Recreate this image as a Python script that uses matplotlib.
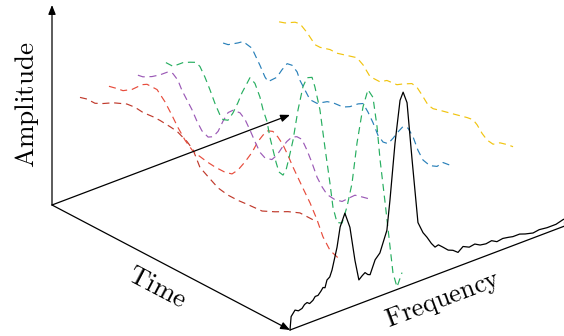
import numpy as np
import matplotlib
matplotlib.use("Agg")
import matplotlib.pyplot as plt

plt.rcParams['mathtext.fontset'] = 'cm'

# time signals: (time position 0..1, amplitude) for each frequency slot
slots = [1, 2, 3, 4, 6, 8]
colors = ['#c0392b', '#e74c3c', '#9b59b6', '#27ae60', '#2980b9', '#f1c40f']

t_red1 = [0, .029, .063, .097, .139, .197, .231, .265, .307, .336, .378, .408, .433, .45, .475,
          .504, .538, .58, .622, .664, .706, .765, .819, .874, .924, .979]
a_red1 = [97, 99, 99, 103, 109, 115, 116, 115, 116, 116, 115, 114, 111, 109, 104,
          90, 85, 79, 77, 77, 78, 79, 85, 92, 97, 97]

t_red2 = [.004, .038, .063, .101, .143, .164, .206, .239, .269, .294, .324, .353, .378, .416, .45,
          .492, .521, .546, .576, .605, .63, .651, .672, .693, .714, .735, .756, .777, .798, .819,
          .849, .878, .903, .933, .975]
a_red2 = [98, 100, 101, 107, 117, 120, 120, 112, 102, 93, 84, 78, 76, 74, 73,
          73, 75, 82, 94, 107, 121, 130, 137, 139, 136, 131, 123, 114, 106, 98,
          87, 74, 60, 50, 46]

t_purple = [.008, .029, .067, .101, .134, .155, .176, .193, .214, .235, .256, .277, .303, .324,
            .345, .366, .387, .408, .437, .458, .479, .5, .521, .542, .571, .592, .613, .634,
            .655, .676, .697, .718, .739, .761, .782, .803, .836, .866, .899, .92, .95, .983]
a_purple = [99, 100, 105, 111, 118, 119, 115, 107, 100, 93, 84, 77, 74, 77,
            85, 98, 109, 114, 115, 111, 103, 94, 86, 83, 85, 92, 102, 111,
            118, 121, 121, 113, 103, 91, 84, 79, 78, 80, 88, 93, 95, 97]

t_green = [.008, .038, .08, .109, .134, .151, .172, .193, .214, .235, .248, .269, .29, .311,
           .328, .349, .361, .382, .403, .416, .433, .445, .458, .471, .483, .5, .513, .525,
           .542, .563, .584, .601, .622, .634, .655, .676, .697, .71, .727, .748, .769, .79,
           .811, .836, .857, .878, .895, .908, .929, .95, .962, .979, 1.0]
a_green = [101, 101, 110, 114, 117, 115, 107, 97, 86, 77, 74, 76, 86, 99,
           111, 123, 130, 127, 116, 105, 95, 81, 70, 59, 51, 50, 57, 70,
           90, 123, 149, 160, 163, 155, 135, 100, 67, 44, 31, 33, 52, 78,
           121, 160, 180, 175, 148, 116, 76, 34, 10, -2, 15]

t_blue = [.013, .034, .076, .097, .134, .147, .168, .189, .202, .239, .26, .282, .303, .324,
          .336, .357, .378, .408, .45, .475, .517, .546, .58, .601, .622, .643, .664, .685,
          .706, .727, .748, .769, .79, .811, .832, .853, .882, .912, .937, .966]
a_blue = [100, 101, 108, 112, 110, 105, 97, 88, 85, 94, 104, 113, 114, 110,
          103, 96, 89, 89, 96, 98, 99, 103, 110, 113, 107, 99, 89, 85,
          86, 94, 103, 111, 112, 106, 95, 88, 86, 89, 96, 97]

t_yellow = [.013, .038, .08, .101, .13, .164, .185, .227, .256, .298, .34, .366, .395, .437,
            .466, .508, .534, .571, .592, .613, .639, .66, .689, .739, .803, .828, .845, .866,
            .887, .912, .941, .971, .996]
a_yellow = [100, 102, 108, 109, 104, 96, 96, 99, 99, 102, 105, 101, 93, 93,
            98, 99, 103, 108, 107, 102, 95, 94, 96, 99, 103, 104, 101, 95,
            91, 90, 95, 97, 98]

signals_t = [t_red1, t_red2, t_purple, t_green, t_blue, t_yellow]
signals_a = [a_red1, a_red2, a_purple, a_green, a_blue, a_yellow]

# spectrum at the end of the time axis
spec_f = [0, .04, .18, .3, .43, .52, .61, .7, .82, .9, 1.0, 1.1, 1.18, 1.25, 1.32, 1.42, 1.5,
          1.68, 1.79, 1.96, 2.14, 2.32, 2.46, 2.58, 2.68, 2.78, 2.86, 3.04, 3.21, 3.46, 3.57,
          3.75, 3.93, 4.04, 4.18, 4.36, 4.57, 4.75, 4.89, 5.05, 5.18, 5.3, 5.46, 5.65, 5.82,
          6.0, 6.18, 6.4, 6.6, 6.79, 7.0, 7.2, 7.39, 7.6, 7.8, 7.96, 8.2, 8.4, 8.68, 8.9,
          9.18, 9.5, 9.75, 10.2]
spec_a = [0, 13, 18, 16, 17, 20, 21, 19, 21, 24, 24, 27, 30, 29, 36, 38, 44,
          65, 84, 96, 80, 45, 24, 27, 29, 26, 25, 38, 43, 63, 92,
          147, 188, 195, 183, 124, 59, 47, 41, 33, 28, 29, 25, 20, 18,
          14, 18, 15, 16, 13, 12, 13, 10, 11, 10, 9, 9, 7, 5, 6,
          5, 5, 7, 8]

# projection of (time, frequency, amplitude) onto the page
origin = np.array([52.0, 205.0])
time_vec = np.array([238.0, 125.0])
freq_vec = np.array([28.0, -10.6])


def project(t, f, a):
    t = np.asarray(t, float)
    f = np.asarray(f, float)
    a = np.asarray(a, float)
    x = origin[0] + t * time_vec[0] + f * freq_vec[0]
    y = origin[1] + t * time_vec[1] + f * freq_vec[1] - a
    return x, y


fig = plt.figure(figsize=(5.64, 3.36), dpi=100)
ax = fig.add_axes([0, 0, 1, 1])
ax.set_xlim(0, 564)
ax.set_ylim(336, 0)
ax.axis('off')

arrow = dict(arrowstyle='-|>,head_length=0.55,head_width=0.22', color='black',
             lw=0.9, shrinkA=0, shrinkB=0, mutation_scale=10)

# axes
ax.annotate('', xy=project(0, 0, 200), xytext=project(0, 0, 0), arrowprops=arrow)
ax.annotate('', xy=project(1, 0, 0), xytext=project(0, 0, 0), arrowprops=arrow)
ax.annotate('', xy=project(0, 8.5, 0), xytext=project(0, 0, 0), arrowprops=arrow)
ax.annotate('', xy=project(1, 10.15, 0), xytext=project(1, 0, 0), arrowprops=arrow,
            annotation_clip=False)

for k, ts, amps, c in zip(slots, signals_t, signals_a, colors):
    x, y = project(ts, k, amps)
    ax.plot(x, y, color=c, lw=0.85, linestyle=(0, (6, 4)))

x, y = project(np.ones(len(spec_f)), spec_f, spec_a)
ax.plot(x, y, color='black', lw=0.9)

ax.text(27, 105, r'$\mathrm{Amplitude}$', rotation=90, ha='center', va='center',
        fontsize=19.5, rotation_mode='anchor')
ax.text(157, 288, r'$\mathrm{Time}$', rotation=-27.7, ha='center', va='center',
        fontsize=19.5, rotation_mode='anchor')
ax.text(443, 300, r'$\mathrm{Frequency}$', rotation=20.7, ha='center', va='center',
        fontsize=19, rotation_mode='anchor')

fig.savefig('out.png', dpi=100)
